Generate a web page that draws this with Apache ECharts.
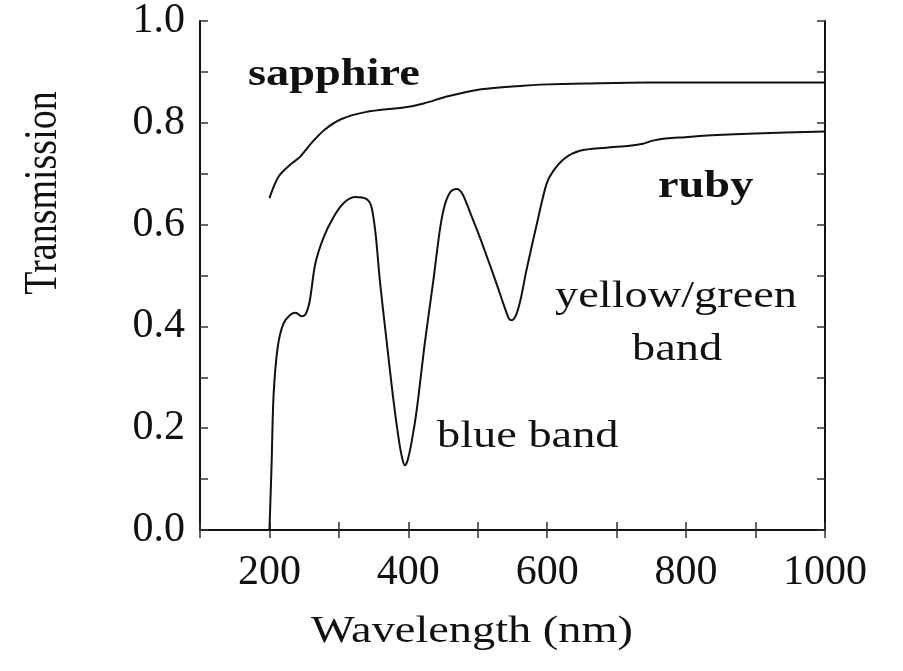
<!DOCTYPE html>
<html>
<head>
<meta charset="UTF-8">
<title>Transmission of sapphire and ruby</title>
<script src="https://cdn.jsdelivr.net/npm/echarts@6/dist/echarts.min.js"></script>
<style>
  html, body { margin: 0; padding: 0; background: #fff; }
  #chart { width: 903px; height: 671px; }
</style>
</head>
<body>
<div id="chart"></div>
<script>
// wavelength (nm) and transmission
const sapphireNm = [200, 213, 231, 244, 261, 279, 303, 338, 398, 422, 457, 505, 565, 590, 654, 744, 1000];
const sapphireT  = [0.652, 0.694, 0.719, 0.733, 0.761, 0.786, 0.807, 0.821, 0.831, 0.838, 0.852, 0.866, 0.873, 0.875, 0.877, 0.879, 0.879];

const rubyNm = [200, 203, 206, 212, 220, 230, 238, 246, 252, 258, 266, 278, 292, 306, 323, 340, 347, 353, 359, 368, 378, 386, 391, 395, 399, 405, 412, 424, 436, 446, 453, 461, 470, 478, 490, 503, 515, 527, 538, 545, 549, 555, 562, 570, 585, 599, 609, 625, 647, 685, 719, 738, 752, 770, 790, 830, 900, 1000];
const rubyT  = [0.0, 0.125, 0.266, 0.360, 0.405, 0.423, 0.427, 0.420, 0.424, 0.450, 0.523, 0.575, 0.614, 0.641, 0.654, 0.650, 0.634, 0.580, 0.490, 0.380, 0.261, 0.180, 0.142, 0.127, 0.137, 0.175, 0.235, 0.370, 0.490, 0.595, 0.641, 0.665, 0.670, 0.660, 0.620, 0.575, 0.530, 0.484, 0.440, 0.415, 0.412, 0.422, 0.455, 0.510, 0.601, 0.680, 0.706, 0.730, 0.745, 0.751, 0.755, 0.759, 0.765, 0.769, 0.771, 0.775, 0.779, 0.783];

const xTicks = [200, 400, 600, 800, 1000];
const yTicks = [0.0, 0.2, 0.4, 0.6, 0.8, 1.0];

const font = 'Liberation Serif';
const ink = '#111';

function pairs(xs, ys) { return xs.map((x, i) => [x, ys[i]]); }

let chart = echarts.init(document.getElementById('chart'));

const frameLine = { show: true, lineStyle: { color: ink, width: 2 } };
const tick = { show: true, inside: true, length: 8, lineStyle: { color: '#333', width: 1.5 } };

// the source picture is a bit wider than tall, so the notes are stretched sideways
const note = (text, left, top, bold) => ({
  type: 'text', left: left, top: top, scaleX: 1.22,
  style: { text: text, font: (bold ? 'bold ' : '') + '38px "Liberation Serif"', fill: ink }
});

chart.setOption({
  animation: false,
  backgroundColor: '#fff',
  grid: { left: 200, right: 78, top: 20, bottom: 141 },
  xAxis: [{
    type: 'value', min: 100, max: 1000, interval: 100,
    axisLine: frameLine, axisTick: tick, splitLine: { show: false },
    axisLabel: {
      margin: 22, color: ink, fontFamily: font, fontSize: 42,
      formatter: v => xTicks.includes(v) ? String(v) : ''
    }
  }, {
    type: 'value', position: 'top', min: 100, max: 1000, interval: 100,
    axisLine: frameLine, axisTick: tick, axisLabel: { show: false }, splitLine: { show: false }
  }],
  yAxis: [{
    type: 'value', min: 0, max: 1, interval: 0.1,
    axisLine: frameLine, axisTick: tick, splitLine: { show: false },
    axisLabel: {
      margin: 15, color: ink, fontFamily: font, fontSize: 42,
      formatter: v => yTicks.some(t => Math.abs(t - v) < 1e-6) ? v.toFixed(1) : ''
    }
  }, {
    type: 'value', position: 'right', min: 0, max: 1, interval: 0.1,
    axisLine: frameLine, axisTick: tick, axisLabel: { show: false }, splitLine: { show: false }
  }],
  series: [{
    name: 'sapphire', type: 'line', data: pairs(sapphireNm, sapphireT),
    showSymbol: false, smooth: 0.3, lineStyle: { color: ink, width: 2 }
  }, {
    name: 'ruby', type: 'line', data: pairs(rubyNm, rubyT),
    showSymbol: false, smooth: 0.3, lineStyle: { color: ink, width: 2 }
  }],
  graphic: [
    note('sapphire', 248, 56, true),
    note('ruby', 658, 168, true),
    note('yellow/green', 555, 278),
    note('band', 632, 331),
    note('blue band', 437, 418),
    { type: 'text', x: 472, y: 632, scaleX: 1.22,
      style: { text: 'Wavelength (nm)', font: '38px "Liberation Serif"', fill: ink, align: 'center', verticalAlign: 'middle' } },
    { type: 'text', x: 44, y: 193, rotation: Math.PI / 2, scaleY: 1.22,
      style: { text: 'Transmission', font: '38px "Liberation Serif"', fill: ink, align: 'center', verticalAlign: 'middle' } }
  ]
});
</script>
</body>
</html>
